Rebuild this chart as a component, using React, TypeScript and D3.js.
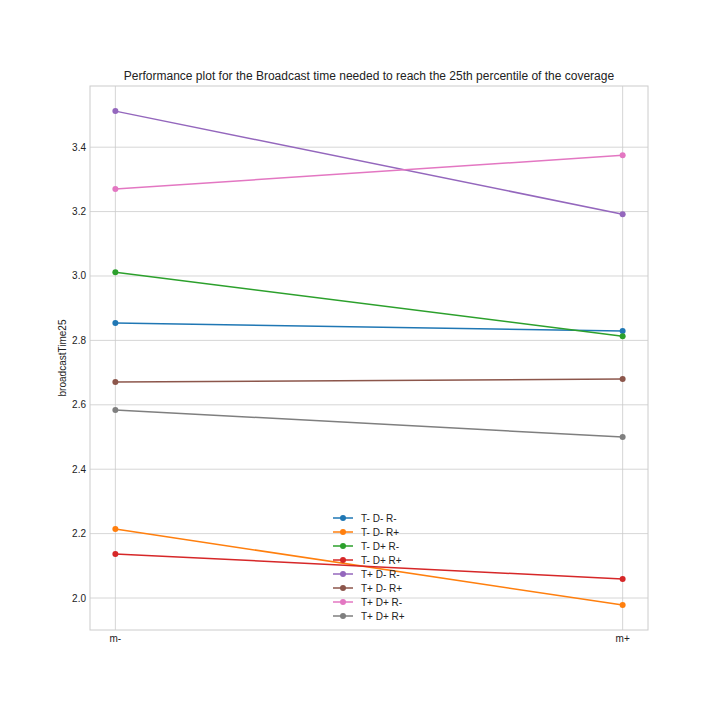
import React, { useEffect, useRef } from 'react';
import * as d3 from 'd3';

const categories = ['m-', 'm+'];
const seriesNames = ['T- D- R-', 'T- D- R+', 'T- D+ R-', 'T- D+ R+', 'T+ D- R-', 'T+ D- R+', 'T+ D+ R-', 'T+ D+ R+'];
const seriesValues = [
  [2.854, 2.829],
  [2.214, 1.978],
  [3.012, 2.813],
  [2.137, 2.059],
  [3.512, 3.192],
  [2.671, 2.680],
  [3.270, 3.375],
  [2.584, 2.500],
];
const colors = ['#1f77b4', '#ff7f0e', '#2ca02c', '#d62728', '#9467bd', '#8c564b', '#e377c2', '#7f7f7f'];
const yTicks = [2.0, 2.2, 2.4, 2.6, 2.8, 3.0, 3.2, 3.4];

const App = () => {
  const ref = useRef<SVGSVGElement>(null);

  useEffect(() => {
    const svg = d3.select(ref.current);
    svg.selectAll('*').remove();
    const left = 90, right = 648, top = 86, bottom = 630;
    const x = d3.scaleLinear().domain([-0.05, 1.05]).range([left, right]);
    const y = d3.scaleLinear().domain([1.9007, 3.59]).range([bottom, top]);
    const font = 'Liberation Sans, Arial, sans-serif';

    svg.append('rect').attr('width', 720).attr('height', 720).attr('fill', 'white');

    const grid = svg.append('g');
    yTicks.forEach((t) => {
      grid.append('line').attr('x1', left).attr('x2', right).attr('y1', y(t)).attr('y2', y(t))
        .attr('stroke', '#cccccc').attr('stroke-width', 0.8);
      svg.append('text').attr('x', left - 4).attr('y', y(t)).attr('dy', '0.35em')
        .attr('text-anchor', 'end').attr('font-size', 10).attr('font-family', font).attr('fill', '#222')
        .text(t.toFixed(1));
    });
    categories.forEach((c, i) => {
      grid.append('line').attr('x1', x(i)).attr('x2', x(i)).attr('y1', top).attr('y2', bottom)
        .attr('stroke', '#cccccc').attr('stroke-width', 0.8);
      svg.append('text').attr('x', x(i)).attr('y', bottom + 8).attr('dy', '0.35em')
        .attr('text-anchor', 'middle').attr('font-size', 10).attr('font-family', font).attr('fill', '#222')
        .text(c);
    });
    svg.append('rect').attr('x', left).attr('y', top).attr('width', right - left).attr('height', bottom - top)
      .attr('fill', 'none').attr('stroke', '#cccccc').attr('stroke-width', 1);

    const line = d3.line<number>().x((_, i) => x(i)).y((d) => y(d));
    seriesValues.forEach((vals, si) => {
      svg.append('path').attr('d', line(vals)).attr('fill', 'none').attr('stroke', colors[si]).attr('stroke-width', 1.5);
      vals.forEach((v, i) => {
        svg.append('circle').attr('cx', x(i)).attr('cy', y(v)).attr('r', 3).attr('fill', colors[si]);
      });
    });

    svg.append('text').attr('x', (left + right) / 2).attr('y', 80).attr('text-anchor', 'middle')
      .attr('font-size', 12).attr('font-family', font).attr('fill', '#222')
      .text('Performance plot for the Broadcast time needed to reach the 25th percentile of the coverage');
    svg.append('text').attr('transform', `translate(66,${(top + bottom) / 2}) rotate(-90)`)
      .attr('text-anchor', 'middle').attr('font-size', 10).attr('font-family', font).attr('fill', '#222')
      .text('broadcastTime25');

    const lg = svg.append('g').attr('transform', 'translate(333,518)');
    seriesNames.forEach((n, i) => {
      const g = lg.append('g').attr('transform', `translate(0,${i * 14})`);
      g.append('line').attr('x1', 0).attr('x2', 20).attr('stroke', colors[i]).attr('stroke-width', 1.5);
      g.append('circle').attr('cx', 10).attr('r', 3).attr('fill', colors[i]);
      g.append('text').attr('x', 28).attr('dy', '0.35em').attr('font-size', 10).attr('font-family', font)
        .attr('fill', '#222').text(n);
    });
  }, []);

  return <svg ref={ref} width={720} height={720} style={{ display: 'block', margin: -8 }} />;
};

export default App;
